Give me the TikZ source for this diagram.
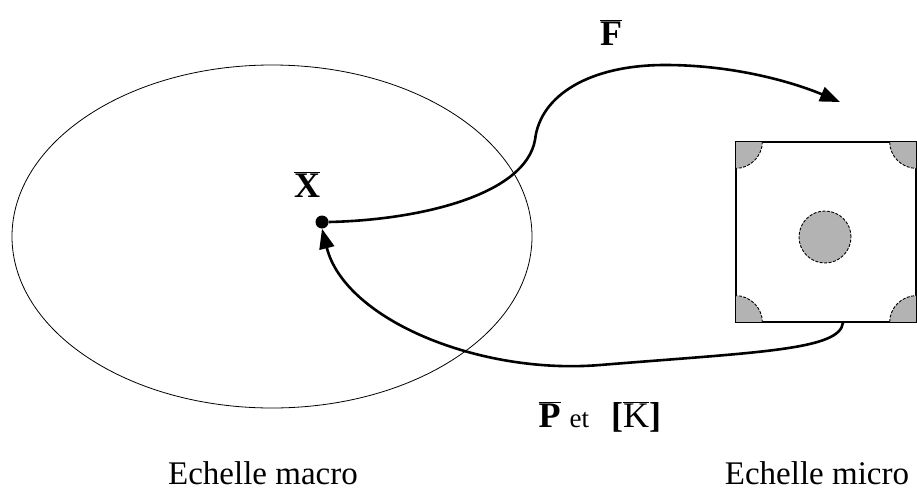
\documentclass[tikz,border=0pt]{standalone}
\usepackage{fontspec}
\setmainfont{Liberation Serif}
\usepackage{tikz}
\usetikzlibrary{arrows.meta, shapes.geometric, calc, positioning}
\definecolor{Ink}  {HTML}{000000}
\definecolor{Grain}{HTML}{B3B3B3}
\newcommand{\barvec}[1]{$\overline{\hbox{#1}}$}

\begin{document}
\begin{tikzpicture}[x=1pt, y=-1pt, font=\fontsize{33}{38}\selectfont,
    flux/.style={line width=2.6pt, draw=Ink, -{Triangle[length=20pt,width=15pt]}},
    grain/.style={fill=Grain, draw=Ink, dash pattern=on 3pt off 1.5pt, line width=0.9pt},
    vecname/.style={anchor=base, font=\fontsize{36}{40}\selectfont\bfseries}]
  \useasboundingbox (0,0) rectangle (917,490);
  % Macro scale
  \node[draw=Ink, ellipse, line width=0.8pt, inner sep=0pt,
        minimum width=520pt, minimum height=343pt] (macro) at (272,236.5) {};
  % Micro scale cell
  \node[draw=Ink, fill=white, line width=1.2pt, inner sep=0pt,
        minimum size=180pt] (micro) at (826,232) {};
  \begin{scope}
    \clip (micro.south west) rectangle (micro.north east);
    \foreach \c in {north west, north east, south west, south east}
      \draw[grain] (micro.\c) circle (27);
  \end{scope}
  \node[grain, circle, inner sep=0pt, minimum size=52pt] (fibre) at (825,237) {};
  \draw[draw=Ink, line width=1.2pt] (micro.south west) rectangle (micro.north east);
  % Point X
  \node[circle, fill=Ink, inner sep=0pt, minimum size=13pt] (xpt) at (322,222) {};
  \node[vecname] (xlab) at (307,197) {\barvec{X}};
  % Arrows
  \coordinate (ftip) at (840,102);
  \coordinate (pstart) at ($(micro.south)+(17,0)$);
  \draw[flux] (xpt.east) .. controls (420,220) and (525,195) .. (535,140)
    .. controls (540,95) and (590,65) .. (665,65)
    .. controls (740,65) and (800,85) .. (ftip);
  \draw[flux] (pstart) .. controls (840,350) and (760,352) .. (600,365)
    .. controls (480,375) and (345,320) .. (xpt.south);
  % Labels
  \node[vecname] (flab) at (611,45) {\barvec{F}};
  \node[anchor=base west] (plab) at (535,427)
    {{\fontsize{36}{40}\selectfont\bfseries\barvec{P}}\hspace{9pt}{\fontsize{27}{30}\selectfont et}\hspace{22pt}{\fontsize{36}{40}\selectfont\textbf{[}\barvec{K}\textbf{]}}};
  \node[anchor=base, inner sep=1pt] (macrolab) at (263,484) {Echelle macro};
  \node[anchor=base, inner sep=1pt] (microlab) at (817,484) {Echelle micro};
\end{tikzpicture}
\end{document}
